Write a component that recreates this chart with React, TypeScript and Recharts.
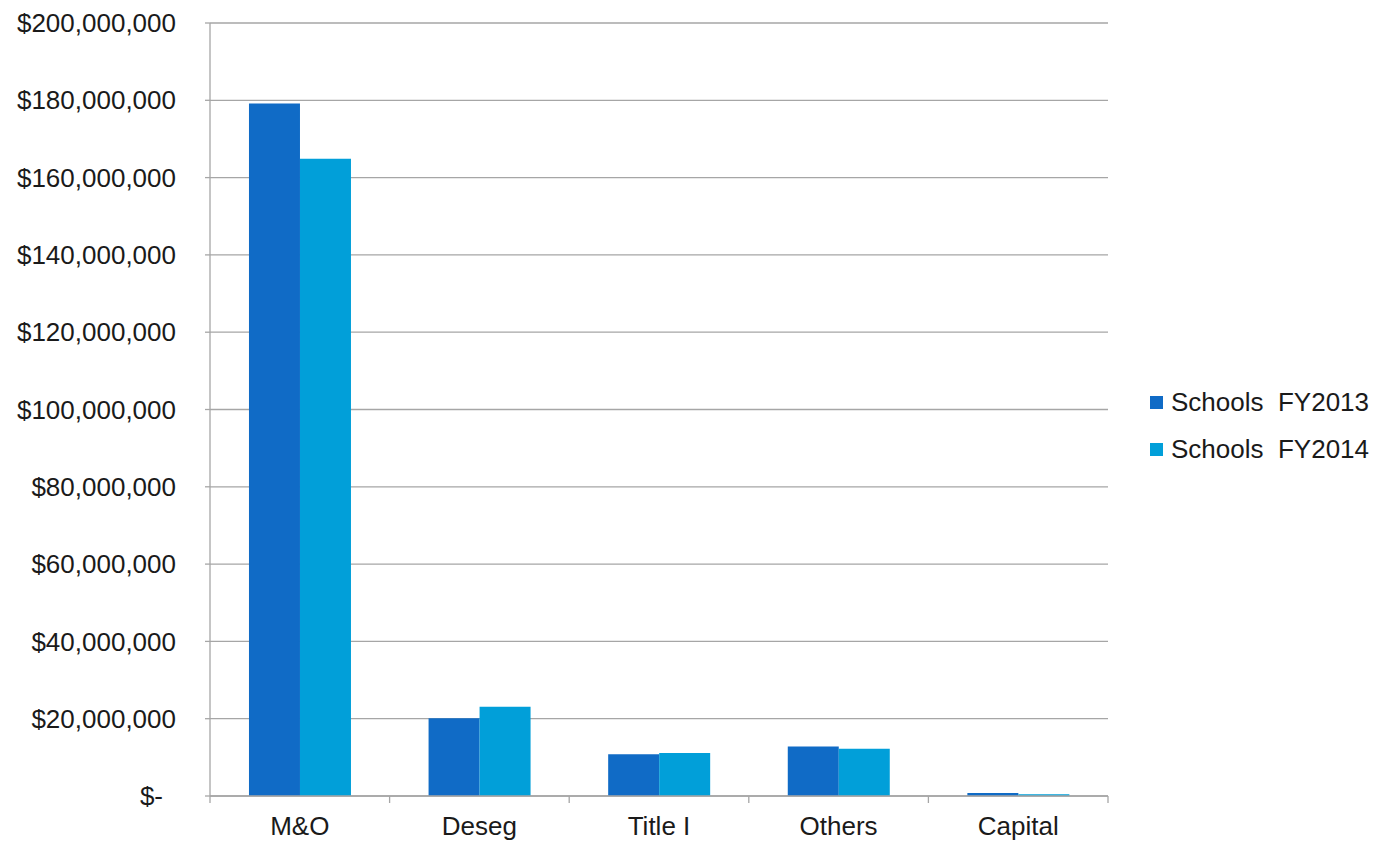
import { BarChart, Bar, XAxis, YAxis, CartesianGrid } from 'recharts';

const categories = ['M&O', 'Deseg', 'Title I', 'Others', 'Capital'];
const fy2013 = [179200000, 20100000, 10800000, 12800000, 780000];
const fy2014 = [164900000, 23100000, 11100000, 12200000, 430000];
const yTicks = [0, 20000000, 40000000, 60000000, 80000000, 100000000, 120000000, 140000000, 160000000, 180000000, 200000000];

const SERIES = [
    { key: 'fy2013', name: 'Schools  FY2013', color: '#106BC6' },
    { key: 'fy2014', name: 'Schools  FY2014', color: '#019FD9' },
];

const FONT = '"Liberation Sans", Arial, sans-serif';
const AXIS_GRAY = '#A6A6A6';

const data = categories.map((name, i) => ({
    name,
    fy2013: fy2013[i],
    fy2014: fy2014[i],
}));

function formatMoney(v: number) {
    if (v === 0) return '$-';
    return '$' + v.toLocaleString('en-US');
}

function YTick(props: any) {
    const { x, y, payload } = props;
    const zero = payload.value === 0;
    return (
        <text
            x={zero ? x - 13 : x}
            y={y}
            dy="0.35em"
            textAnchor="end"
            fill="#1a1a1a"
            fontSize={26}
            fontFamily={FONT}
        >
            {formatMoney(payload.value)}
        </text>
    );
}

// category label plus tick marks on the band edges (Excel style)
function XTick(props: any) {
    const { x, y, payload, index, visibleTicksCount, width } = props;
    const half =
        payload && typeof payload.offset === 'number' && payload.offset > 0
            ? payload.offset
            : width / (2 * visibleTicksCount);
    const last = index === visibleTicksCount - 1;
    return (
        <g>
            <line x1={x - half} x2={x - half} y1={y} y2={y + 7} stroke={AXIS_GRAY} strokeWidth={1.3} />
            {last && (
                <line x1={x + half} x2={x + half} y1={y} y2={y + 7} stroke={AXIS_GRAY} strokeWidth={1.3} />
            )}
            <text
                x={x}
                y={y + 21}
                dy="0.71em"
                textAnchor="middle"
                fill="#1a1a1a"
                fontSize={26}
                fontFamily={FONT}
            >
                {payload.value}
            </text>
        </g>
    );
}

function ChartLegend() {
    return (
        <div
            style={{
                position: 'absolute',
                left: 1150,
                top: 379,
                fontFamily: FONT,
                fontSize: 26,
                color: '#1a1a1a',
            }}
        >
            {SERIES.map((s) => (
                <div
                    key={s.key}
                    style={{ display: 'flex', alignItems: 'center', height: 47 }}
                >
                    <span
                        style={{
                            width: 13,
                            height: 13,
                            background: s.color,
                            marginRight: 8,
                            display: 'inline-block',
                        }}
                    />
                    <span style={{ whiteSpace: 'pre' }}>{s.name}</span>
                </div>
            ))}
        </div>
    );
}

export default function App() {
    return (
        <div style={{ position: 'absolute', left: 0, top: 0, width: 1378, height: 843, background: '#fff' }}>
            <BarChart
                width={1378}
                height={843}
                data={data}
                margin={{ top: 23, right: 270, bottom: 0, left: 0 }}
                barCategoryGap="21.7%"
                barGap={0}
            >
                <CartesianGrid vertical={false} stroke={AXIS_GRAY} strokeWidth={1.3} />
                <XAxis
                    dataKey="name"
                    axisLine={{ stroke: AXIS_GRAY, strokeWidth: 1.3 }}
                    tickLine={false}
                    tickSize={0}
                    tickMargin={0}
                    height={47}
                    tick={<XTick />}
                    interval={0}
                />
                <YAxis
                    width={210}
                    domain={[0, 200000000]}
                    ticks={yTicks}
                    interval={0}
                    tickSize={5}
                    tickMargin={29}
                    axisLine={{ stroke: AXIS_GRAY, strokeWidth: 1.3 }}
                    tickLine={{ stroke: AXIS_GRAY, strokeWidth: 1.3 }}
                    tick={<YTick />}
                />
                {SERIES.map((s) => (
                    <Bar
                        key={s.key}
                        dataKey={s.key}
                        name={s.name}
                        fill={s.color}
                        isAnimationActive={false}
                    />
                ))}
            </BarChart>
            <ChartLegend />
        </div>
    );
}
